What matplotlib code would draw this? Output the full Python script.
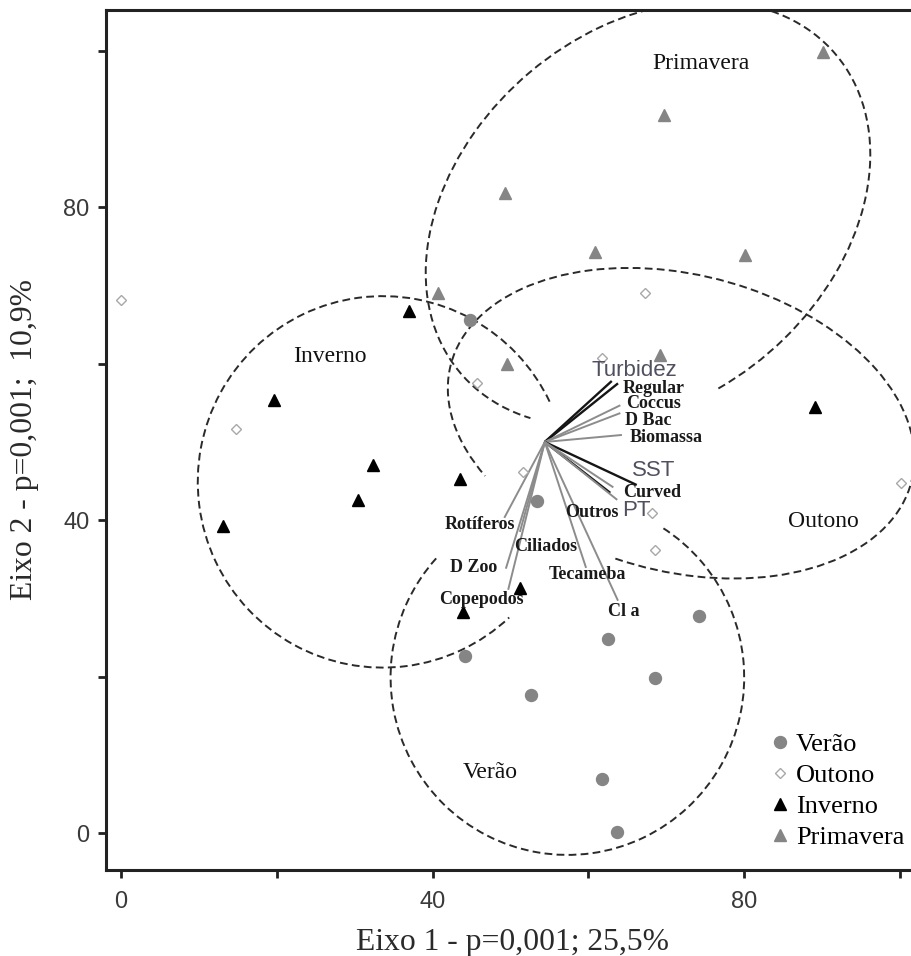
import matplotlib
matplotlib.use('Agg')
import matplotlib.pyplot as plt
from matplotlib.patches import Arc
from matplotlib.lines import Line2D

# --- sample scores ---
verao_x = [44.8, 53.4, 44.2, 52.6, 62.5, 74.2, 68.5, 61.8, 63.7]
verao_y = [65.6, 42.4, 22.6, 17.7, 24.8, 27.7, 19.8, 6.9, 0.1]
outono_x = [0.0, 14.8, 67.3, 61.8, 45.7, 51.6, 68.1, 68.5, 100.1]
outono_y = [68.1, 51.7, 69.0, 60.7, 57.5, 46.2, 40.9, 36.2, 44.8]
inverno_x = [37.0, 19.6, 32.3, 30.4, 13.1, 43.5, 51.2, 43.9, 89.1]
inverno_y = [66.7, 55.4, 47.1, 42.6, 39.3, 45.3, 31.3, 28.3, 54.5]
primavera_x = [90.1, 69.7, 49.3, 60.8, 80.1, 40.7, 49.6, 69.2]
primavera_y = [99.9, 91.8, 81.8, 74.3, 73.9, 69.0, 60.0, 61.1]

# --- season ellipses: centre, width, height, angle, arc start/end ---
ell_names = ['Primavera', 'Outono', 'Inverno', 'Verão']
ell_cx = [67.65, 71.9, 33.6, 57.3]
ell_cy = [79.2, 52.4, 44.9, 19.9]
ell_w = [63.1, 61.0, 47.5, 45.4]
ell_h = [47.2, 38.0, 47.5, 45.4]
ell_ang = [40, -14, 0, 0]
ell_t1 = [252, 258, 25.6, 137.9]
ell_t2 = [560, 569, 313.1, 417.8]
ell_lab_x = [74.5, 90.2, 26.8, 47.4]
ell_lab_y = [98.4, 39.8, 60.9, 7.7]

# --- variable vectors ---
vec_origin = (54.4, 50.0)
vec_names = ['Turbidez', 'Regular', 'Coccus', 'D Bac', 'Biomassa', 'SST', 'Curved',
             'Outros', 'PT', 'Rotíferos', 'Ciliados', 'D Zoo', 'Copepodos', 'Tecameba', 'Cl a']
vec_x = [63.0, 63.8, 64.1, 64.1, 64.3, 66.2, 62.8, 63.2, 63.7, 49.2, 51.2, 49.4, 49.7, 59.7, 63.8]
vec_y = [57.8, 57.5, 54.7, 53.7, 50.9, 44.5, 43.5, 44.2, 42.6, 40.3, 38.5, 33.8, 31.1, 33.9, 29.7]
vec_black = ['Turbidez', 'Regular', 'SST', 'Curved']
env_vars = ['Turbidez', 'SST', 'PT']
lab_x = [65.9, 68.4, 68.3, 67.7, 70.0, 68.4, 68.2, 60.5, 66.2, 46.1, 54.5, 45.3, 46.3, 59.9, 64.6]
lab_y = [59.2, 56.9, 54.9, 52.8, 50.6, 46.4, 43.6, 41.0, 41.2, 39.4, 36.6, 33.9, 29.8, 33.0, 28.3]

serif = 'Liberation Serif'
sans = 'Liberation Sans'
gray = '#858585'

fig = plt.figure(figsize=(9.12, 9.56), dpi=100)
ax = fig.add_axes([106/912, 86/956, 806/912, 860/956])

for i in range(len(ell_names)):
    arc = Arc((ell_cx[i], ell_cy[i]), ell_w[i], ell_h[i], angle=ell_ang[i],
              theta1=ell_t1[i], theta2=ell_t2[i], color='#2a2a2a', lw=1.4,
              linestyle=(0, (4, 2.2)))
    ax.add_patch(arc)
    ax.text(ell_lab_x[i], ell_lab_y[i], ell_names[i], family=serif, fontsize=17,
            ha='center', va='center', color='#111111')

for i, n in enumerate(vec_names):
    c = '#151515' if n in vec_black else '#8c8c8c'
    ax.plot([vec_origin[0], vec_x[i]], [vec_origin[1], vec_y[i]], color=c,
            lw=1.7 if n in vec_black else 1.4, solid_capstyle='butt', zorder=2)
    if n in env_vars:
        ax.text(lab_x[i], lab_y[i], n, family=sans, fontsize=16, color='#505060',
                ha='center', va='center', zorder=4)
    else:
        ax.text(lab_x[i], lab_y[i], n, family=serif, fontsize=13, weight='bold',
                color='#1a1a1a', ha='center', va='center', zorder=4)

ax.plot(verao_x, verao_y, 'o', ms=8.6, color=gray, mec=gray, ls='none', zorder=3)
ax.plot(outono_x, outono_y, 'D', ms=5.4, mfc='white', mec='#a8a8a8', mew=1.0, ls='none', zorder=3)
ax.plot(inverno_x, inverno_y, '^', ms=9, color='black', ls='none', zorder=3)
ax.plot(primavera_x, primavera_y, '^', ms=9, color=gray, ls='none', zorder=3)

handles = [
    Line2D([], [], marker='o', ms=8.6, color=gray, ls='none'),
    Line2D([], [], marker='D', ms=5.4, mfc='white', mec='#a8a8a8', mew=1.0, ls='none'),
    Line2D([], [], marker='^', ms=9, color='black', ls='none'),
    Line2D([], [], marker='^', ms=9, color=gray, ls='none'),
]
leg = ax.legend(handles, ['Verão', 'Outono', 'Inverno', 'Primavera'], loc='upper left',
                bbox_to_anchor=(772/912, 1-733/956), bbox_transform=fig.transFigure,
                frameon=False, prop={'family': serif, 'size': 19}, handlelength=0.6,
                handletextpad=0.3, labelspacing=0.28, borderpad=0, borderaxespad=0)

ax.set_xlim(-1.93, 101.54)
ax.set_ylim(-4.73, 105.24)
ax.set_xticks([0, 20, 40, 60, 80, 100])
ax.set_xticklabels(['0', '', '40', '', '80', ''])
ax.set_yticks([0, 20, 40, 60, 80, 100])
ax.set_yticklabels(['0', '', '40', '', '80', ''])
ax.tick_params(length=6, width=2, color='#222222', labelsize=17, labelcolor='#3a3a3a')
ax.tick_params(axis='x', pad=9)
ax.tick_params(axis='y', pad=6)
for lab in ax.get_xticklabels() + ax.get_yticklabels():
    lab.set_family(sans)
for s in ['left', 'bottom', 'top']:
    ax.spines[s].set_linewidth(2.2)
    ax.spines[s].set_color('#222222')
ax.spines['right'].set_visible(False)

fig.text(513/912, 1-950/956, 'Eixo 1 - p=0,001; 25,5%', family=serif, fontsize=22.8,
         ha='center', va='baseline', color='#2a2a2a')
fig.text(24.5/912, 1-440/956, 'Eixo 2 - p=0,001;  10,9%', family=serif, fontsize=22.8,
         ha='center', va='center', rotation=90, color='#2a2a2a')

fig.savefig('out.png', dpi=100)
